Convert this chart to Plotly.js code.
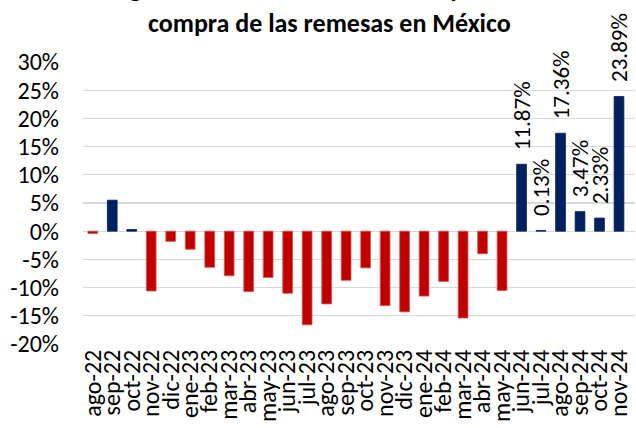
<!DOCTYPE html>
<html>
<head>
<meta charset="utf-8">
<script src="https://cdn.plot.ly/plotly-3.0.1.min.js"></script>
<style>html,body{margin:0;padding:0;background:#fff;}#chart{width:636px;height:428px;}</style>
</head>
<body>
<div id="chart"></div>
<script>
const months = ["ago-22","sep-22","oct-22","nov-22","dic-22","ene-23","feb-23","mar-23","abr-23","may-23","jun-23","jul-23","ago-23","sep-23","oct-23","nov-23","dic-23","ene-24","feb-24","mar-24","abr-24","may-24","jun-24","jul-24","ago-24","sep-24","oct-24","nov-24"];
const growth = [-0.4, 5.5, 0.3, -10.6, -1.8, -3.2, -6.4, -7.9, -10.7, -8.2, -11.0, -16.6, -12.9, -8.7, -6.5, -13.2, -14.3, -11.5, -8.9, -15.4, -4.0, -10.5, 11.87, 0.13, 17.36, 3.47, 2.33, 23.89];
const labelled = ["jun-24","jul-24","ago-24","sep-24","oct-24","nov-24"];
const yTicks = [-20, -15, -10, -5, 0, 5, 10, 15, 20, 25, 30];
const titleLines = ["Figura 1: Crecimiento anual del poder de", "compra de las remesas en México"];

const RED = "#C00000", NAVY = "#002060";
const FONT = "Carlito, 'Liberation Sans', sans-serif";

const colors = growth.map(v => v >= 0 ? NAVY : RED);
const lineColors = growth.map(v => v >= 0 ? NAVY : "#E05050");

const annotations = months.map((m, i) => labelled.includes(m) ? {
  x: m, y: growth[i], xref: "x", yref: "y",
  text: growth[i].toFixed(2) + "%",
  textangle: -90, showarrow: false,
  xanchor: "center", yanchor: "bottom", yshift: 12,
  font: {family: FONT, size: 23, color: "#000"}
} : null).filter(a => a);

// two title lines (the first one sits mostly above the picture, as in the reference)
[56, 21].forEach((shift, k) => annotations.push({
  xref: "paper", yref: "paper", x: 0.4467, y: 1,
  xanchor: "center", yanchor: "bottom", yshift: shift,
  showarrow: false,
  text: "<b>" + titleLines[k] + "</b>",
  font: {family: FONT, size: 26, color: "#000"}
}));

const data = [{
  type: "bar", x: months, y: growth,
  width: 0.5,
  marker: {color: colors, line: {color: lineColors, width: 0.8}},
  hoverinfo: "skip"
}];

const layout = {
  width: 636, height: 428,
  margin: {l: 83, r: 1, t: 62, b: 84},
  paper_bgcolor: "#fff", plot_bgcolor: "#fff",
  showlegend: false,
  xaxis: {
    type: "category",
    tickmode: "array", tickvals: months, ticktext: months,
    tickangle: -90,
    tickfont: {family: FONT, size: 24, color: "#000"},
    showgrid: false, showline: false, ticks: "",
    zeroline: false
  },
  yaxis: {
    range: [-20, 30],
    tickmode: "array", tickvals: yTicks, ticktext: yTicks.map(v => v + "%"),
    tickfont: {family: FONT, size: 24, color: "#000"},
    gridcolor: "#D9D9D9", gridwidth: 1.3,
    zeroline: true, zerolinecolor: "#D9D9D9", zerolinewidth: 1.3,
    showline: false, ticks: "", ticklabelstandoff: 23
  },
  annotations: annotations
};

Plotly.newPlot("chart", data, layout, {staticPlot: true, displayModeBar: false});
</script>
</body>
</html>
